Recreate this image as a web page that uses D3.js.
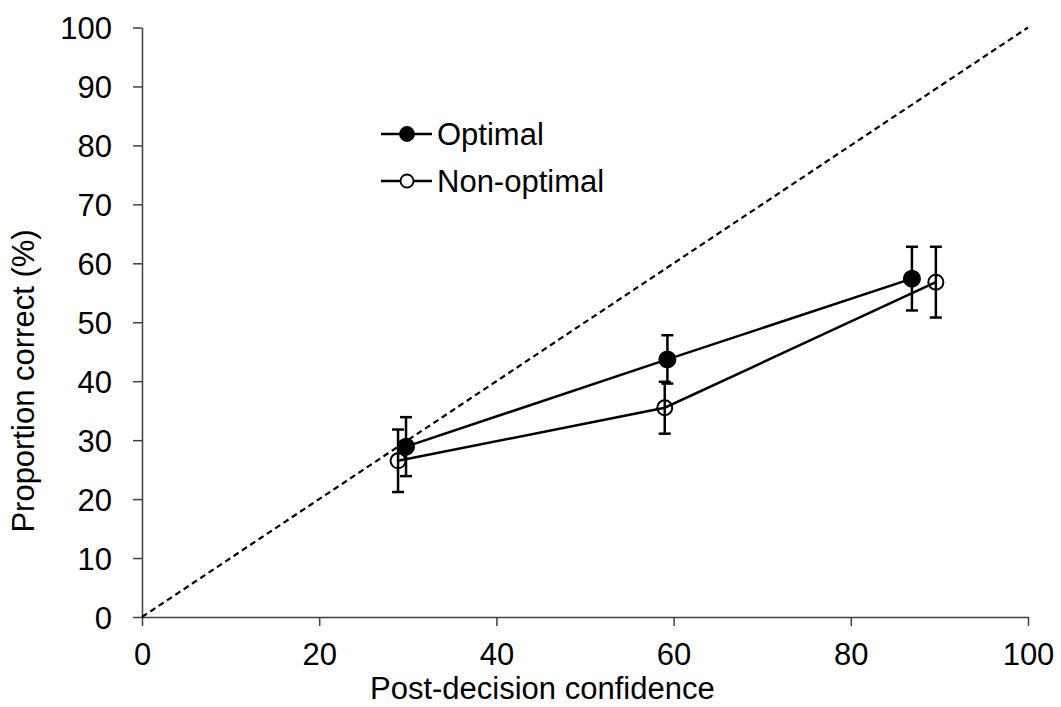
<!DOCTYPE html>
<html><head><meta charset="utf-8">
<script src="https://cdn.jsdelivr.net/npm/d3@7"></script>
<style>body{margin:0;background:#fff}svg{display:block}text{font-family:"Liberation Sans",Arial,sans-serif;fill:#000}</style>
</head><body><svg id="c" width="1061" height="707"></svg>
<script>
const xTicks = [0,20,40,60,80,100];
const yTicks = [0,10,20,30,40,50,60,70,80,90,100];
const optimalX = [29.8, 59.3, 86.9];
const optimalY = [28.9, 43.7, 57.4];
const optimalErr = [5.0, 4.1, 5.4];
const nonOptimalX = [28.9, 59.0, 89.6];
const nonOptimalY = [26.5, 35.5, 56.8];
const nonOptimalErr = [5.3, 4.4, 6.0];
const seriesNames = ["Optimal", "Non-optimal"];

const FS = 31;
const svg = d3.select("#c");
const x = d3.scaleLinear().domain([0,100]).range([142,1028]);
const y = d3.scaleLinear().domain([0,100]).range([617,27.5]);

const ax = svg.append("g").attr("transform","translate(0,617)")
  .call(d3.axisBottom(x).tickValues(xTicks).tickSize(9).tickSizeOuter(0).tickPadding(17));
const ay = svg.append("g").attr("transform","translate(142,0)")
  .call(d3.axisLeft(y).tickValues(yTicks).tickSize(9).tickSizeOuter(0).tickPadding(21));
[ax,ay].forEach(g=>{
  g.selectAll("path,line").attr("stroke","#404040").attr("stroke-width",1.5);
  g.selectAll("text").attr("font-size",FS).attr("font-family","Liberation Sans, Arial, sans-serif").attr("fill","#000");
});
ay.selectAll("text").attr("dy","0.36em");

// diagonal
svg.append("line").attr("x1",x(0)).attr("y1",y(0)).attr("x2",x(100)).attr("y2",y(100))
  .attr("stroke","#000").attr("stroke-width",2.2).attr("stroke-dasharray","6,4");

function series(xs, ys, es, filled){
  const pts = xs.map((v,i)=>({x:v,y:ys[i],e:es[i]}));
  const g = svg.append("g");
  g.append("path").datum(pts)
    .attr("d", d3.line().x(d=>x(d.x)).y(d=>y(d.y)))
    .attr("fill","none").attr("stroke","#000").attr("stroke-width",2.5);
  pts.forEach(d=>{
    g.append("line").attr("x1",x(d.x)).attr("x2",x(d.x)).attr("y1",y(d.y-d.e)).attr("y2",y(d.y+d.e))
      .attr("stroke","#000").attr("stroke-width",2.5);
    [d.y-d.e,d.y+d.e].forEach(v=>{
      g.append("line").attr("x1",x(d.x)-6).attr("x2",x(d.x)+6).attr("y1",y(v)).attr("y2",y(v))
        .attr("stroke","#000").attr("stroke-width",2.5);
    });
    g.append("circle").attr("cx",x(d.x)).attr("cy",y(d.y)).attr("r", filled?8:7.5)
      .attr("fill", filled?"#000":"none").attr("stroke","#000").attr("stroke-width",2);
  });
}
series(nonOptimalX, nonOptimalY, nonOptimalErr, false);
series(optimalX, optimalY, optimalErr, true);

// legend
const legY = [134, 181];
seriesNames.forEach((n,i)=>{
  const g = svg.append("g");
  g.append("line").attr("x1",381).attr("x2",432).attr("y1",legY[i]).attr("y2",legY[i])
    .attr("stroke","#000").attr("stroke-width",2.5);
  g.append("circle").attr("cx",407).attr("cy",legY[i]).attr("r", i===0?7:6.5)
    .attr("fill", i===0?"#000":"#fff").attr("stroke","#000").attr("stroke-width",1.8);
  g.append("text").attr("x",437).attr("y",legY[i]).attr("dy","0.36em").attr("font-size",FS).text(n);
});

svg.append("text").attr("x",370).attr("y",699).attr("text-anchor","start").attr("font-size",FS)
  .text("Post-decision confidence");
svg.append("text").attr("transform","translate(34,381) rotate(-90)").attr("text-anchor","middle").attr("font-size",FS)
  .text("Proportion correct (%)");
</script></body></html>
